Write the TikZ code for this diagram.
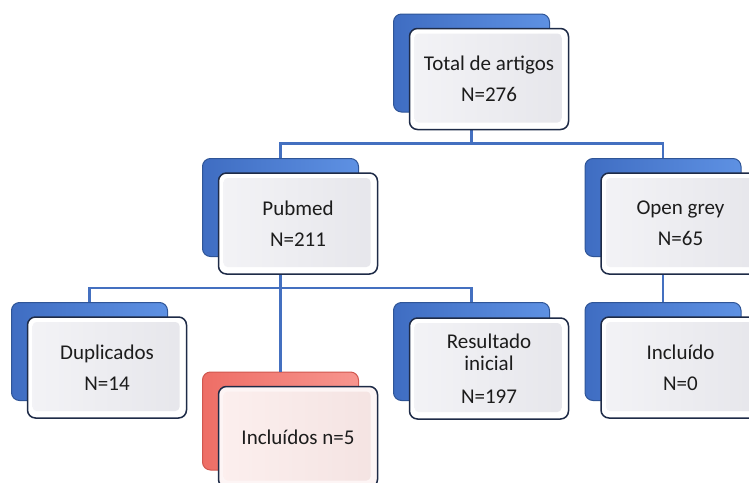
\documentclass[tikz,border=0pt]{standalone}
\usepackage{fontspec}
\setmainfont{Carlito}
\definecolor{linkblue}{HTML}{4470C0}
\definecolor{backdark}{HTML}{3F6DC2}
\definecolor{backlight}{HTML}{5E91E3}
\definecolor{backedge}{HTML}{2F5597}
\definecolor{reddark}{HTML}{EE6E66}
\definecolor{redlight}{HTML}{F7958E}
\definecolor{rededge}{HTML}{D0574F}
\definecolor{frontedge}{HTML}{1E2B47}
\definecolor{panelL}{HTML}{F3F3F6}
\definecolor{panelR}{HTML}{E6E6EB}
\definecolor{rpanelL}{HTML}{FCEFEE}
\definecolor{rpanelR}{HTML}{F4E3E2}
\definecolor{textgray}{HTML}{1C1C1C}
\begin{document}
\begin{tikzpicture}[x=1pt,y=-1pt,
  backbox/.style={draw=backedge, left color=backdark, right color=backlight, line width=1pt,
    rounded corners=8pt, minimum width=156pt, minimum height=98pt, inner sep=0pt},
  redback/.style={backbox, draw=rededge, left color=reddark, right color=redlight},
  frontbox/.style={draw=frontedge, fill=white, line width=1.5pt, rounded corners=8pt,
    minimum width=159pt, minimum height=101pt, inner sep=0pt, align=center, text=textgray,
    font=\fontsize{21}{31}\selectfont,
    path picture={\shade[left color=panelL, right color=panelR, rounded corners=4pt]
      ([shift={(5pt,-5pt)}]path picture bounding box.north west) rectangle
      ([shift={(-7pt,7pt)}]path picture bounding box.south east);}},
  redfront/.style={frontbox, fill=rpanelL!60!white,
    path picture={\shade[left color=rpanelL, right color=rpanelR, rounded corners=4pt]
      ([shift={(5pt,-5pt)}]path picture bounding box.north west) rectangle
      ([shift={(-7pt,7pt)}]path picture bounding box.south east);}},
  conn/.style={draw=linkblue, line width=2.4pt}]
\useasboundingbox (0,0) rectangle (749,482);
\fill[white] (0,0) rectangle (749,482);
\clip (0,0) rectangle (749,482);

% back boxes
\node[backbox] (totalb) at (471.5,63) {};
\node[backbox] (pubb) at (280.5,207.5) {};
\node[backbox] (openb) at (663,207.5) {};
\node[backbox] (dupb) at (89.5,351.5) {};
\node[redback] (inclb) at (280.5,421) {};
\node[backbox] (resb) at (471.5,351.5) {};
\node[backbox] (inc0b) at (663,351.5) {};

% connectors
\draw[conn] (totalb.south) -- ++(0,31) coordinate (bus1) -| (pubb.north);
\draw[conn] (bus1) -| (openb.north);
\draw[conn] (pubb.south) -- ++(0,31) coordinate (bus2) -| (dupb.north);
\draw[conn] (bus2) -| (resb.north);
\draw[conn] (pubb.south) -- (inclb.north);
\draw[conn] (openb.south) -- (inc0b.north);

% front boxes
\node[frontbox] (total) at (489,79) {Total de artigos\\N=276};
\node[frontbox] (pub) at (298,223.5) {Pubmed\\N=211};
\node[frontbox] (open) at (680.5,223.5) {Open grey\\N=65};
\node[frontbox] (dup) at (107,367.5) {Duplicados\\N=14};
\node[redfront] (incl) at (298,437) {Incluídos n=5};
\node[frontbox] (res) at (489,368.5) {Resultado\\[-9pt]inicial\\[2pt]N=197};
\node[frontbox] (inc0) at (680.5,367.5) {Incluído\\N=0};
\end{tikzpicture}
\end{document}
